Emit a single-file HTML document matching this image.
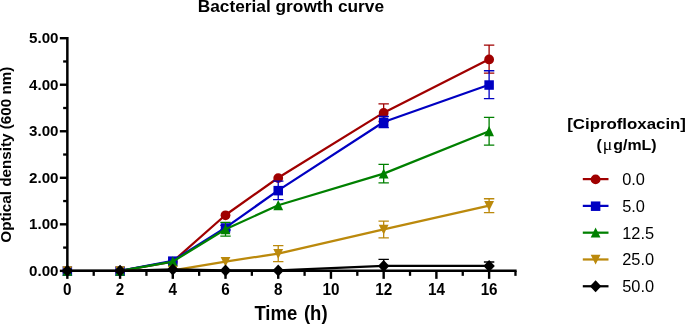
<!DOCTYPE html><html><head><meta charset="utf-8"><style>
html,body{margin:0;padding:0;background:#fff;}svg{display:block;will-change:transform;}text{-webkit-font-smoothing:antialiased;font-family:"Liberation Sans",sans-serif;fill:#000;}
.b{font-weight:bold;}
</style></head><body>
<svg width="685" height="324" viewBox="0 0 685 324">
<rect width="685" height="324" fill="#fff"/>
<text class="b" x="290.9" y="12.0" font-size="17.3" text-anchor="middle">Bacterial growth curve</text>
<text class="b" transform="translate(10.55,154.65) rotate(-90) scale(1.09,1)" font-size="14" text-anchor="middle">Optical density (600 nm)</text>
<text class="b" transform="translate(254.4,319.7) scale(0.955,1)" font-size="19.4" word-spacing="1.6">Time (h)</text>
<path d="M383.67 103.81 V121.49 M378.47 103.81 H388.87 M378.47 121.49 H388.87" stroke="#a00000" stroke-width="1.3" fill="none"/>
<path d="M489.11 45.18 V73.10 M483.91 45.18 H494.31 M483.91 73.10 H494.31" stroke="#a00000" stroke-width="1.3" fill="none"/>
<polyline points="120.07,270.85 172.79,261.54 225.51,215.01 278.23,177.79 383.67,112.65 489.11,59.14" fill="none" stroke="#a00000" stroke-width="2.25" stroke-linejoin="round"/>
<circle cx="67.35" cy="271.15" r="4.9" fill="#a00000"/>
<circle cx="120.07" cy="271.15" r="4.9" fill="#a00000"/>
<circle cx="172.79" cy="261.84" r="4.9" fill="#a00000"/>
<circle cx="225.51" cy="215.31" r="4.9" fill="#a00000"/>
<circle cx="278.23" cy="178.09" r="4.9" fill="#a00000"/>
<circle cx="383.67" cy="112.95" r="4.9" fill="#a00000"/>
<circle cx="489.11" cy="59.44" r="4.9" fill="#a00000"/>
<path d="M225.51 225.34 V230.00 M220.31 225.34 H230.71 M220.31 230.00 H230.71" stroke="#0000c2" stroke-width="1.3" fill="none"/>
<path d="M278.23 181.05 V199.66 M273.03 181.05 H283.43 M273.03 199.66 H283.43" stroke="#0000c2" stroke-width="1.3" fill="none"/>
<path d="M383.67 116.37 V127.54 M378.47 116.37 H388.87 M378.47 127.54 H388.87" stroke="#0000c2" stroke-width="1.3" fill="none"/>
<path d="M489.11 70.77 V98.69 M483.91 70.77 H494.31 M483.91 98.69 H494.31" stroke="#0000c2" stroke-width="1.3" fill="none"/>
<polyline points="120.07,270.85 172.79,260.85 225.51,227.67 278.23,190.35 383.67,121.95 489.11,84.73" fill="none" stroke="#0000c2" stroke-width="2.25" stroke-linejoin="round"/>
<rect x="62.60" y="266.40" width="9.5" height="9.5" fill="#0000c2"/>
<rect x="115.32" y="266.40" width="9.5" height="9.5" fill="#0000c2"/>
<rect x="168.04" y="256.40" width="9.5" height="9.5" fill="#0000c2"/>
<rect x="220.76" y="223.22" width="9.5" height="9.5" fill="#0000c2"/>
<rect x="273.48" y="185.90" width="9.5" height="9.5" fill="#0000c2"/>
<rect x="378.92" y="117.50" width="9.5" height="9.5" fill="#0000c2"/>
<rect x="484.36" y="80.28" width="9.5" height="9.5" fill="#0000c2"/>
<path d="M225.51 222.41 V236.19 M220.31 222.41 H230.71 M220.31 236.19 H230.71" stroke="#008000" stroke-width="1.3" fill="none"/>
<path d="M383.67 164.30 V182.91 M378.47 164.30 H388.87 M378.47 182.91 H388.87" stroke="#008000" stroke-width="1.3" fill="none"/>
<path d="M489.11 117.30 V145.22 M483.91 117.30 H494.31 M483.91 145.22 H494.31" stroke="#008000" stroke-width="1.3" fill="none"/>
<polyline points="120.07,270.85 172.79,261.54 225.51,229.30 278.23,205.24 383.67,173.60 489.11,131.26" fill="none" stroke="#008000" stroke-width="2.25" stroke-linejoin="round"/>
<path d="M67.35 265.65 L72.25 275.75 L62.45 275.75 Z" fill="#008000"/>
<path d="M120.07 265.65 L124.97 275.75 L115.17 275.75 Z" fill="#008000"/>
<path d="M172.79 256.34 L177.69 266.44 L167.89 266.44 Z" fill="#008000"/>
<path d="M225.51 224.10 L230.41 234.20 L220.61 234.20 Z" fill="#008000"/>
<path d="M278.23 200.04 L283.13 210.14 L273.33 210.14 Z" fill="#008000"/>
<path d="M383.67 168.40 L388.57 178.50 L378.77 178.50 Z" fill="#008000"/>
<path d="M489.11 126.06 L494.01 136.16 L484.21 136.16 Z" fill="#008000"/>
<path d="M278.23 245.72 V261.54 M273.03 245.72 H283.43 M273.03 261.54 H283.43" stroke="#bb890c" stroke-width="1.3" fill="none"/>
<path d="M383.67 221.06 V237.81 M378.47 221.06 H388.87 M378.47 237.81 H388.87" stroke="#bb890c" stroke-width="1.3" fill="none"/>
<path d="M489.11 198.73 V212.69 M483.91 198.73 H494.31 M483.91 212.69 H494.31" stroke="#bb890c" stroke-width="1.3" fill="none"/>
<polyline points="120.07,270.85 172.79,270.38 225.51,261.54 278.23,253.63 383.67,229.44 489.11,205.71" fill="none" stroke="#bb890c" stroke-width="2.25" stroke-linejoin="round"/>
<path d="M67.35 275.95 L72.25 266.25 L62.45 266.25 Z" fill="#bb890c"/>
<path d="M120.07 275.95 L124.97 266.25 L115.17 266.25 Z" fill="#bb890c"/>
<path d="M172.79 275.48 L177.69 265.78 L167.89 265.78 Z" fill="#bb890c"/>
<path d="M225.51 266.64 L230.41 256.94 L220.61 256.94 Z" fill="#bb890c"/>
<path d="M278.23 258.73 L283.13 249.03 L273.33 249.03 Z" fill="#bb890c"/>
<path d="M383.67 234.54 L388.57 224.84 L378.77 224.84 Z" fill="#bb890c"/>
<path d="M489.11 210.81 L494.01 201.11 L484.21 201.11 Z" fill="#bb890c"/>
<path d="M383.67 259.45 V265.96 M378.47 259.45 H388.87" stroke="#000000" stroke-width="1.3" fill="none"/>
<path d="M489.11 262.01 V265.96 M483.91 262.01 H494.31" stroke="#000000" stroke-width="1.3" fill="none"/>
<polyline points="67.35,270.85 120.07,270.85 172.79,269.45 225.51,270.38 278.23,270.38 383.67,265.96 489.11,265.96" fill="none" stroke="#000000" stroke-width="2.25" stroke-linejoin="round"/>
<path d="M67.35 264.85 L73.05 270.85 L67.35 276.85 L61.65 270.85 Z" fill="#000000"/>
<path d="M120.07 264.85 L125.77 270.85 L120.07 276.85 L114.37 270.85 Z" fill="#000000"/>
<path d="M172.79 263.45 L178.49 269.45 L172.79 275.45 L167.09 269.45 Z" fill="#000000"/>
<path d="M225.51 264.38 L231.21 270.38 L225.51 276.38 L219.81 270.38 Z" fill="#000000"/>
<path d="M278.23 264.38 L283.93 270.38 L278.23 276.38 L272.53 270.38 Z" fill="#000000"/>
<path d="M383.67 259.96 L389.37 265.96 L383.67 271.96 L377.97 265.96 Z" fill="#000000"/>
<path d="M489.11 259.96 L494.81 265.96 L489.11 271.96 L483.41 265.96 Z" fill="#000000"/>
<path d="M67.35 37.00 V272.10" stroke="#000" stroke-width="2.5" fill="none"/>
<path d="M66.10 270.85 H516.62" stroke="#000" stroke-width="2.5" fill="none"/>
<path d="M59.85 270.85 H67.35" stroke="#000" stroke-width="2.4"/>
<text class="b" x="58.5" y="275.75" font-size="15.15" text-anchor="end">0.00</text>
<path d="M63.15 247.59 H67.35" stroke="#000" stroke-width="2.3"/>
<path d="M59.85 224.32 H67.35" stroke="#000" stroke-width="2.4"/>
<text class="b" x="58.5" y="229.22" font-size="15.15" text-anchor="end">1.00</text>
<path d="M63.15 201.06 H67.35" stroke="#000" stroke-width="2.3"/>
<path d="M59.85 177.79 H67.35" stroke="#000" stroke-width="2.4"/>
<text class="b" x="58.5" y="182.69" font-size="15.15" text-anchor="end">2.00</text>
<path d="M63.15 154.53 H67.35" stroke="#000" stroke-width="2.3"/>
<path d="M59.85 131.26 H67.35" stroke="#000" stroke-width="2.4"/>
<text class="b" x="58.5" y="136.16" font-size="15.15" text-anchor="end">3.00</text>
<path d="M63.15 108.00 H67.35" stroke="#000" stroke-width="2.3"/>
<path d="M59.85 84.73 H67.35" stroke="#000" stroke-width="2.4"/>
<text class="b" x="58.5" y="89.63" font-size="15.15" text-anchor="end">4.00</text>
<path d="M63.15 61.47 H67.35" stroke="#000" stroke-width="2.3"/>
<path d="M59.85 38.20 H67.35" stroke="#000" stroke-width="2.4"/>
<text class="b" x="58.5" y="43.10" font-size="15.15" text-anchor="end">5.00</text>
<path d="M67.35 270.85 V278.85" stroke="#000" stroke-width="2.4"/>
<text class="b" transform="translate(67.35,295.2) scale(0.965,1)" font-size="15.8" text-anchor="middle">0</text>
<path d="M93.71 270.85 V275.85" stroke="#000" stroke-width="2.3"/>
<path d="M120.07 270.85 V278.85" stroke="#000" stroke-width="2.4"/>
<text class="b" transform="translate(120.07,295.2) scale(0.965,1)" font-size="15.8" text-anchor="middle">2</text>
<path d="M146.43 270.85 V275.85" stroke="#000" stroke-width="2.3"/>
<path d="M172.79 270.85 V278.85" stroke="#000" stroke-width="2.4"/>
<text class="b" transform="translate(172.79,295.2) scale(0.965,1)" font-size="15.8" text-anchor="middle">4</text>
<path d="M199.15 270.85 V275.85" stroke="#000" stroke-width="2.3"/>
<path d="M225.51 270.85 V278.85" stroke="#000" stroke-width="2.4"/>
<text class="b" transform="translate(225.51,295.2) scale(0.965,1)" font-size="15.8" text-anchor="middle">6</text>
<path d="M251.87 270.85 V275.85" stroke="#000" stroke-width="2.3"/>
<path d="M278.23 270.85 V278.85" stroke="#000" stroke-width="2.4"/>
<text class="b" transform="translate(278.23,295.2) scale(0.965,1)" font-size="15.8" text-anchor="middle">8</text>
<path d="M304.59 270.85 V275.85" stroke="#000" stroke-width="2.3"/>
<path d="M330.95 270.85 V278.85" stroke="#000" stroke-width="2.4"/>
<text class="b" transform="translate(330.95,295.2) scale(0.965,1)" font-size="15.8" text-anchor="middle">10</text>
<path d="M357.31 270.85 V275.85" stroke="#000" stroke-width="2.3"/>
<path d="M383.67 270.85 V278.85" stroke="#000" stroke-width="2.4"/>
<text class="b" transform="translate(383.67,295.2) scale(0.965,1)" font-size="15.8" text-anchor="middle">12</text>
<path d="M410.03 270.85 V275.85" stroke="#000" stroke-width="2.3"/>
<path d="M436.39 270.85 V278.85" stroke="#000" stroke-width="2.4"/>
<text class="b" transform="translate(436.39,295.2) scale(0.965,1)" font-size="15.8" text-anchor="middle">14</text>
<path d="M462.75 270.85 V275.85" stroke="#000" stroke-width="2.3"/>
<path d="M489.11 270.85 V278.85" stroke="#000" stroke-width="2.4"/>
<text class="b" transform="translate(489.11,295.2) scale(0.965,1)" font-size="15.8" text-anchor="middle">16</text>
<path d="M515.47 270.85 V275.85" stroke="#000" stroke-width="2.3"/>
<text class="b" transform="translate(567.2,128.6) scale(1.17,1)" font-size="14.4">[Ciprofloxacin]</text>
<text class="b" transform="translate(596.5,149.5) scale(1.105,1)" font-size="14.4">(<tspan font-family="Liberation Serif" font-weight="normal" font-size="16" dx="0.9">μ</tspan><tspan dx="0.9">g/mL)</tspan></text>
<path d="M582.8 179.10 H608.5" stroke="#a00000" stroke-width="2.25"/>
<circle cx="595.60" cy="179.40" r="4.9" fill="#a00000"/>
<text x="622.2" y="184.95" font-size="16.4">0.0</text>
<path d="M582.8 205.89 H608.5" stroke="#0000c2" stroke-width="2.25"/>
<rect x="590.85" y="201.44" width="9.5" height="9.5" fill="#0000c2"/>
<text x="622.2" y="211.74" font-size="16.4">5.0</text>
<path d="M582.8 232.68 H608.5" stroke="#008000" stroke-width="2.25"/>
<path d="M595.60 227.48 L600.50 237.58 L590.70 237.58 Z" fill="#008000"/>
<text x="622.2" y="238.53" font-size="16.4">12.5</text>
<path d="M582.8 259.47 H608.5" stroke="#bb890c" stroke-width="2.25"/>
<path d="M595.60 264.57 L600.50 254.87 L590.70 254.87 Z" fill="#bb890c"/>
<text x="622.2" y="265.32" font-size="16.4">25.0</text>
<path d="M582.8 286.26 H608.5" stroke="#000000" stroke-width="2.25"/>
<path d="M595.60 280.26 L601.30 286.26 L595.60 292.26 L589.90 286.26 Z" fill="#000000"/>
<text x="622.2" y="292.11" font-size="16.4">50.0</text>
</svg></body></html>
